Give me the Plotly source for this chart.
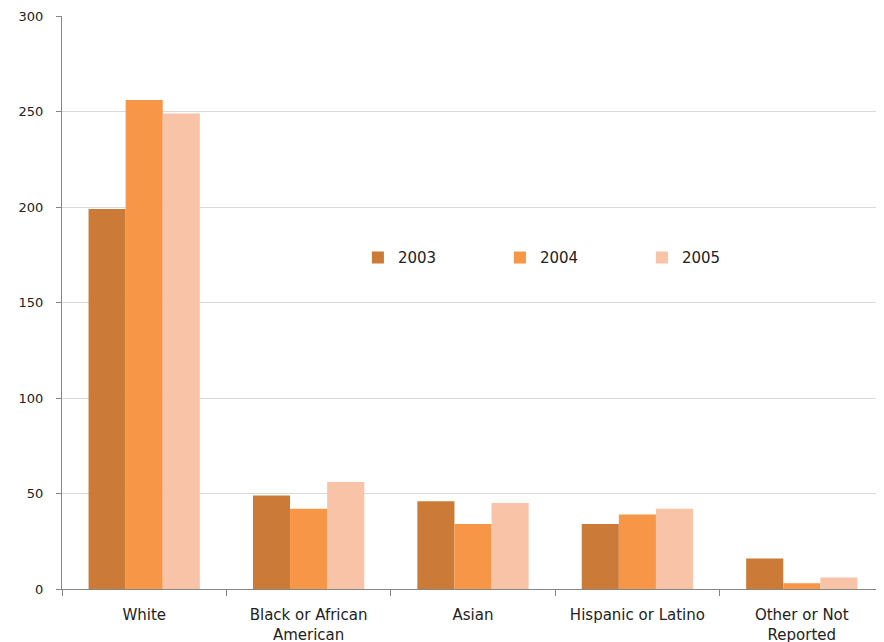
import plotly.graph_objects as go

categories = ["White", "Black or African<br>American", "Asian", "Hispanic or Latino", "Other or Not<br>Reported"]
years = ["2003", "2004", "2005"]
values_2003 = [199, 49, 46, 34, 16]
values_2004 = [256, 42, 34, 39, 3]
values_2005 = [249, 56, 45, 42, 6]
colors = ["#CC7A38", "#F79646", "#F9C3A8"]
y_ticks = [0, 50, 100, 150, 200, 250, 300]

fig = go.Figure()
for name, vals, col in zip(years, [values_2003, values_2004, values_2005], colors):
    fig.add_trace(go.Bar(x=categories, y=vals, name=name, marker=dict(color=col, line=dict(width=0))))

font = "DejaVu Sans, Verdana, sans-serif"
fig.update_layout(
    width=876, height=634,
    margin=dict(l=54, r=0, t=8, b=53, autoexpand=False),
    paper_bgcolor="white", plot_bgcolor="white",
    barmode="group", bargap=0.323, bargroupgap=0,
    font=dict(family=font, size=13, color="#222222"),
    showlegend=True,
    legend=dict(orientation="h", x=0.360, y=0.578, xanchor="left", yanchor="middle",
                entrywidth=97, entrywidthmode="pixels", bgcolor="rgba(0,0,0,0)",
                font=dict(family=font, size=15, color="#222222")),
    xaxis=dict(showline=True, linecolor="#868686", linewidth=1, ticks="outside",
               tickson="boundaries", ticklen=6, tickcolor="#868686", showgrid=False,
               tickfont=dict(family=font, size=15), ticklabelstandoff=12),
    yaxis=dict(range=[0, 300], tickvals=y_ticks, showline=True, linecolor="#868686",
               linewidth=1, ticks="outside", ticklen=5, tickcolor="#868686",
               showgrid=True, gridcolor="#D9D9D9", gridwidth=1, zeroline=False,
               tickfont=dict(family=font, size=13), ticklabelstandoff=10,
               ticklabeloverflow="allow"),
)
fig.write_html("out.html")
